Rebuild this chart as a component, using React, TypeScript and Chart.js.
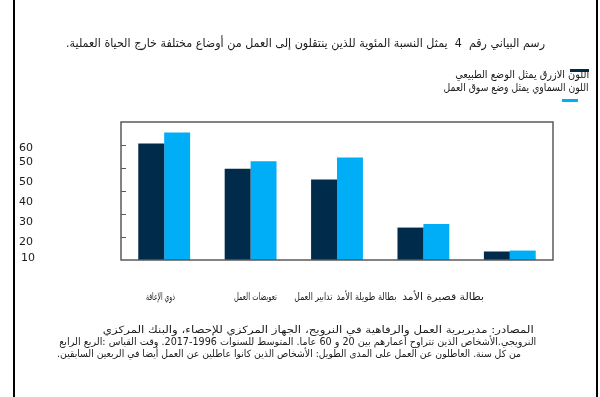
import React, { useEffect, useLayoutEffect, useRef } from "react";
import { Chart, registerables } from "chart.js";

Chart.register(...registerables);

const titleText =
  "رسم البياني رقم  4  يمثل النسبة المئوية للذين ينتقلون إلى العمل من أوضاع مختلفة خارج الحياة العملية.";
const legendNormal = "اللون الازرق يمثل الوضع الطبيعي";
const legendMarket = "اللون السماوي يمثل وضع سوق العمل";
const categories = [
  "بطالة قصيرة الأمد",
  "بطالة طويلة الأمد",
  "تدابير العمل",
  "تعويضات العمل",
  "ذوي الإعاقة",
];
const normalValues = [50.7, 39.7, 35.0, 14.1, 3.7];
const marketValues = [55.4, 42.9, 44.6, 15.7, 4.1];
const yTickValues = [10, 20, 30, 40, 50];
const yLabelTexts = ["60", "50", "50", "40", "30", "20", "10"];
const footerLines = [
  "المصادر: مديريرية العمل والرفاهية في النرويج، الجهاز المركزي للإحصاء، والبنك المركزي",
  "النرويجي.الأشخاص الذين تتراوح أعمارهم بين 20 و 60 عاما. المتوسط للسنوات 1996-2017. وقت القياس :الربع الرابع",
  "من كل سنة. العاطلون عن العمل على المدى الطويل: الأشخاص الذين كانوا عاطلين عن العمل أيضا في الربعين السابقين.",
];

const DARK = "#012b4b";
const LIGHT = "#00adf7";
const FONT = '"DejaVu Sans", sans-serif';

// layout (styling only)
const yLabelPos = [
  { x: 19, y: 148 },
  { x: 19, y: 162 },
  { x: 19, y: 182 },
  { x: 19, y: 202 },
  { x: 19, y: 222 },
  { x: 19, y: 242 },
  { x: 21, y: 258 },
];
const catLabelPos = [
  { right: 484, width: 82 },
  { right: 396, width: 60 },
  { right: 332, width: 38 },
  { right: 277, width: 43 },
  { right: 175, width: 29 },
];
const footerPos = [
  { right: 534, width: 431, y: 330 },
  { right: 536, width: 477, y: 342 },
  { right: 521, width: 464, y: 354 },
];

function FitText(props: {
  text: string;
  right: number;
  width: number;
  cy: number;
  size: number;
}) {
  const ref = useRef<HTMLSpanElement>(null);
  useLayoutEffect(() => {
    const el = ref.current;
    if (!el) return;
    el.style.transform = "none";
    const w = el.getBoundingClientRect().width;
    if (w > 0) el.style.transform = `scaleX(${props.width / w})`;
  }, [props.text, props.width, props.size]);
  return (
    <span
      ref={ref}
      dir="rtl"
      style={{
        position: "absolute",
        right: 600 - props.right,
        top: props.cy - props.size * 0.6,
        fontSize: props.size,
        lineHeight: `${props.size * 1.2}px`,
        whiteSpace: "pre",
        transformOrigin: "right center",
        fontFamily: FONT,
        color: "#1a1a1a",
      }}
    >
      {props.text}
    </span>
  );
}

const framePlugin = {
  id: "framePlugin",
  afterDraw(chart: any) {
    const { ctx, chartArea } = chart;
    const ys = chart.scales.y;
    ctx.save();
    ctx.strokeStyle = "#5a5a5a";
    ctx.lineWidth = 1.5;
    ctx.strokeRect(
      chartArea.left,
      chartArea.top,
      chartArea.right - chartArea.left,
      chartArea.bottom - chartArea.top
    );
    ctx.lineWidth = 1;
    for (const v of yTickValues) {
      const y = Math.round(ys.getPixelForValue(v)) + 0.5;
      ctx.beginPath();
      ctx.moveTo(chartArea.left, y);
      ctx.lineTo(chartArea.left + 5, y);
      ctx.stroke();
    }
    ctx.restore();
  },
};

export default function App() {
  const canvasRef = useRef<HTMLCanvasElement>(null);

  useEffect(() => {
    if (!canvasRef.current) return;
    const chart = new Chart(canvasRef.current, {
      type: "bar",
      data: {
        labels: categories,
        datasets: [
          {
            label: legendNormal,
            data: normalValues,
            backgroundColor: DARK,
            borderWidth: 0,
            categoryPercentage: 0.6,
            barPercentage: 1.0,
          },
          {
            label: legendMarket,
            data: marketValues,
            backgroundColor: LIGHT,
            borderWidth: 0,
            categoryPercentage: 0.6,
            barPercentage: 1.0,
          },
        ],
      },
      options: {
        responsive: false,
        animation: false,
        devicePixelRatio: 1,
        layout: { padding: { left: 121, top: 122, right: 47, bottom: 137 } },
        plugins: { legend: { display: false }, tooltip: { enabled: false } },
        scales: {
          x: { display: false },
          y: { display: false, min: 0, max: 60 },
        },
      },
      plugins: [framePlugin],
    });
    return () => chart.destroy();
  }, []);

  return (
    <div
      style={{
        position: "fixed",
        left: 0,
        top: 0,
        width: 600,
        height: 397,
        background: "#fff",
        overflow: "hidden",
      }}
    >
      <canvas
        ref={canvasRef}
        width={600}
        height={397}
        style={{ position: "absolute", left: 0, top: 0, width: 600, height: 397 }}
      />
      <div style={{ position: "absolute", left: 13, top: 0, width: 2, height: 397, background: "#000" }} />
      <div style={{ position: "absolute", left: 596, top: 0, width: 2, height: 397, background: "#000" }} />

      <FitText text={titleText} right={545} width={479} cy={43} size={12} />

      <div style={{ position: "absolute", left: 570, top: 69, width: 19, height: 3, background: DARK }} />
      <FitText text={legendNormal} right={589} width={134} cy={75} size={11} />
      <FitText text={legendMarket} right={589} width={145} cy={88} size={11} />
      <div style={{ position: "absolute", left: 562, top: 99, width: 16, height: 3, background: LIGHT }} />

      {yLabelTexts.map((t, i) => (
        <span
          key={i}
          style={{
            position: "absolute",
            left: yLabelPos[i].x,
            top: yLabelPos[i].y - 7,
            fontSize: 11,
            lineHeight: "14px",
            fontFamily: FONT,
            color: "#1a1a1a",
          }}
        >
          {t}
        </span>
      ))}

      {categories.map((c, i) => (
        <FitText key={c} text={c} right={catLabelPos[i].right} width={catLabelPos[i].width} cy={297} size={10} />
      ))}

      {footerLines.map((l, i) => (
        <FitText key={i} text={l} right={footerPos[i].right} width={footerPos[i].width} cy={footerPos[i].y} size={10} />
      ))}
    </div>
  );
}
